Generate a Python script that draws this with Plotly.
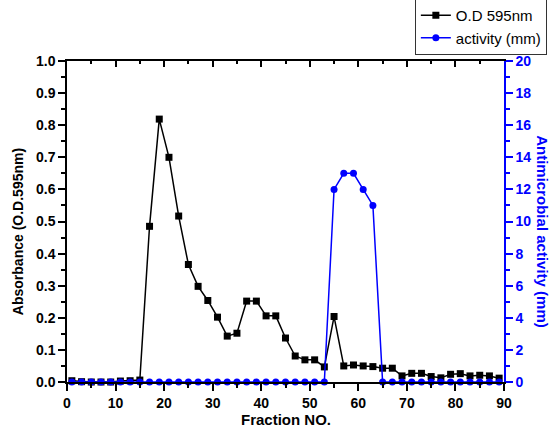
import plotly.graph_objects as go

fractions = [1, 3, 5, 7, 9, 11, 13, 15, 17, 19, 21, 23, 25, 27, 29, 31, 33, 35, 37, 39,
             41, 43, 45, 47, 49, 51, 53, 55, 57, 59, 61, 63, 65, 67, 69, 71, 73, 75, 77, 79,
             81, 83, 85, 87, 89]
od595 = [0.004, 0.001, 0.0, 0.0, 0.0, 0.003, 0.004, 0.006, 0.485, 0.819,
         0.700, 0.517, 0.366, 0.298, 0.254, 0.202, 0.143, 0.152, 0.252, 0.252,
         0.206, 0.206, 0.137, 0.081, 0.069, 0.069, 0.047, 0.204, 0.050, 0.053,
         0.050, 0.048, 0.043, 0.043, 0.019, 0.027, 0.027, 0.017, 0.013, 0.024,
         0.026, 0.019, 0.021, 0.019, 0.012]
activity = [0, 0, 0, 0, 0, 0, 0, 0, 0, 0,
            0, 0, 0, 0, 0, 0, 0, 0, 0, 0,
            0, 0, 0, 0, 0, 0, 0, 12, 13, 13,
            12, 11, 0, 0, 0, 0, 0, 0, 0, 0,
            0, 0, 0, 0, 0]

FONT = "Liberation Sans, Arial, sans-serif"
BLUE = "#0000ff"

fig = go.Figure()
fig.add_trace(go.Scatter(
    x=fractions, y=od595, name="O.D 595nm", mode="lines+markers",
    line=dict(color="black", width=1.5),
    marker=dict(symbol="square", size=7, color="black"),
    cliponaxis=False, yaxis="y", xaxis="x"))
fig.add_trace(go.Scatter(
    x=fractions, y=activity, name="activity (mm)", mode="lines+markers",
    line=dict(color=BLUE, width=1.5),
    marker=dict(symbol="circle", size=7, color=BLUE),
    cliponaxis=False, yaxis="y2", xaxis="x"))

fig.update_layout(
    width=554, height=432,
    margin=dict(l=67, r=50, t=61, b=50, autoexpand=False),
    plot_bgcolor="white", paper_bgcolor="white",
    font=dict(family=FONT, color="black"),
    showlegend=True,
    legend=dict(x=0.796, y=1.019, xanchor="left", yanchor="bottom",
                bgcolor="white", bordercolor="#333333", borderwidth=1,
                font=dict(family=FONT, size=15, color="black"),
                tracegroupgap=0, itemwidth=30),
    xaxis=dict(range=[0, 90], dtick=10, tick0=0, showgrid=False, zeroline=False,
               showline=True, linecolor="black", linewidth=1.5,
               ticks="outside", ticklen=7, tickwidth=1.5, tickcolor="black",
               minor=dict(dtick=5, ticks="outside", ticklen=4, tickwidth=1.5, tickcolor="black"),
               tickfont=dict(family=FONT, size=14, weight="bold", color="black")),
    xaxis2=dict(range=[0, 90], dtick=10, tick0=0, overlaying="x", side="top",
                showgrid=False, zeroline=False, showticklabels=False,
                showline=True, linecolor="black", linewidth=1.5,
                ticks="inside", ticklen=6, tickwidth=1.5, tickcolor="black",
                minor=dict(dtick=5, ticks="inside", ticklen=3, tickwidth=1.5, tickcolor="black")),
    yaxis=dict(range=[0, 1.0], dtick=0.1, tick0=0, tickformat=".1f",
               showgrid=False, zeroline=False,
               showline=True, linecolor="black", linewidth=1.5,
               ticks="outside", ticklen=7, tickwidth=1.5, tickcolor="black",
               minor=dict(dtick=0.05, ticks="outside", ticklen=4, tickwidth=1.5, tickcolor="black"),
               tickfont=dict(family=FONT, size=14, weight="bold", color="black")),
    yaxis2=dict(range=[0, 20], dtick=2, tick0=0, overlaying="y", side="right",
                showgrid=False, zeroline=False,
                showline=True, linecolor=BLUE, linewidth=1.5,
                ticks="outside", ticklen=7, tickwidth=1.5, tickcolor=BLUE,
                minor=dict(dtick=1, ticks="outside", ticklen=4, tickwidth=1.5, tickcolor=BLUE),
                tickfont=dict(family=FONT, size=14, weight="bold", color=BLUE)),
)

# invisible trace to activate the top axis
fig.add_trace(go.Scatter(x=[None], y=[None], xaxis="x2", yaxis="y",
                         showlegend=False, hoverinfo="skip"))

fig.add_annotation(text="<b>Absorbance (O.D.595nm)</b>", xref="paper", yref="paper",
                   x=-0.112, y=0.467, xanchor="center", yanchor="middle",
                   textangle=-90, showarrow=False,
                   font=dict(family=FONT, size=14, color="black"))
fig.add_annotation(text="<b>Antimicrobial activity (mm)</b>", xref="paper", yref="paper",
                   x=1.089, y=0.467, xanchor="center", yanchor="middle",
                   textangle=90, showarrow=False,
                   font=dict(family=FONT, size=15, color=BLUE))
fig.add_annotation(text="<b>Fraction NO.</b>", xref="paper", yref="paper",
                   x=0.502, y=-0.118, xanchor="center", yanchor="middle",
                   showarrow=False,
                   font=dict(family=FONT, size=15, color="black"))

fig.write_html("out.html", config={"displayModeBar": False},
               post_script="document.body.style.margin='0';document.body.style.overflow='hidden';")
